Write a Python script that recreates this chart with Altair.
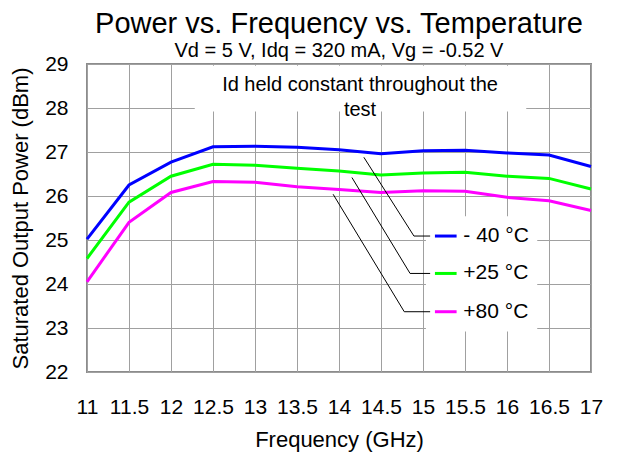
import altair as alt
import pandas as pd

# ---- data ----
freq = [11, 11.5, 12, 12.5, 13, 13.5, 14, 14.5, 15, 15.5, 16, 16.5, 17]
p_m40 = [25.02, 26.25, 26.77, 27.12, 27.13, 27.11, 27.05, 26.96, 27.03, 27.04, 26.98, 26.93, 26.67]
p_25 = [24.58, 25.86, 26.45, 26.72, 26.70, 26.63, 26.57, 26.48, 26.52, 26.54, 26.45, 26.40, 26.16]
p_80 = [24.05, 25.40, 26.08, 26.33, 26.31, 26.21, 26.15, 26.08, 26.12, 26.11, 25.97, 25.89, 25.67]

series_labels = ["- 40 °C", "+25 °C", "+80 °C"]
series_colors = ["#0000FF", "#00FF00", "#FF00FF"]

x_ticks = [11, 11.5, 12, 12.5, 13, 13.5, 14, 14.5, 15, 15.5, 16, 16.5, 17]
y_ticks = [22, 23, 24, 25, 26, 27, 28, 29]

# legend (manual, inside the plot) and leader lines
legend_y = [25.09, 24.24, 23.37]
swatch_x = [15.142, 15.40]
legend_text_x = 15.48
leader_start_x = [14.296, 14.154, 13.93]
leader_start_y = [26.88, 26.42, 26.04]
leader_corner_x = [14.892, 14.846, 14.777]
leader_end_x = 15.085

# white boxes behind annotation and legend
box_x = [12.283, 15.035]
box_x2 = [16.229, 16.36]
box_y = [28.96, 25.54]
box_y2 = [27.92, 22.92]

note_lines = ["Id held constant throughout the", "test"]
note_x = 14.25
note_y = [28.52, 27.95]

FONT = "Liberation Sans"
XT = "Frequency (GHz)"
YT = "Saturated Output Power (dBm)"

xs = alt.Scale(domain=[11, 17], nice=False, zero=False)
ys = alt.Scale(domain=[22, 29], nice=False, zero=False)

rows = []
for lab, vals in zip(series_labels, [p_m40, p_25, p_80]):
    for f, v in zip(freq, vals):
        rows.append({"freq": f, "power": v, "series": lab})
df = pd.DataFrame(rows)

boxes = pd.DataFrame({"x": box_x, "x2": box_x2, "y": box_y, "y2": box_y2})

lead_rows = []
for i, lab in enumerate(series_labels):
    lead_rows.append({"id": lab, "o": 0, "x": leader_start_x[i], "y": leader_start_y[i]})
    lead_rows.append({"id": lab, "o": 1, "x": leader_corner_x[i], "y": legend_y[i]})
    lead_rows.append({"id": lab, "o": 2, "x": leader_end_x, "y": legend_y[i]})
leads = pd.DataFrame(lead_rows)

leg = pd.DataFrame({"series": series_labels, "y": legend_y,
                    "x": [swatch_x[0]] * 3, "x2": [swatch_x[1]] * 3,
                    "tx": [legend_text_x] * 3})

notes = pd.DataFrame({"t": note_lines, "x": [note_x] * 2, "y": note_y})

color = alt.Color("series:N", scale=alt.Scale(domain=series_labels, range=series_colors), legend=None)

xaxis = alt.Axis(values=x_ticks, format="~g", title=XT, labelOverlap=False, labelFlush=False, labelBound=False)
yaxis = alt.Axis(values=y_ticks, format="d", title=YT, labelOverlap=False, labelFlush=False)

box_layer = alt.Chart(boxes).mark_rect(color="white").encode(
    x=alt.X("x:Q", scale=xs, axis=xaxis, title=XT),
    x2="x2:Q",
    y=alt.Y("y:Q", scale=ys, axis=yaxis, title=YT),
    y2="y2:Q",
)

lines = alt.Chart(df).mark_line(strokeWidth=3).encode(
    x=alt.X("freq:Q", scale=xs, axis=xaxis, title=XT),
    y=alt.Y("power:Q", scale=ys, axis=yaxis, title=YT),
    color=color,
)

leader = alt.Chart(leads).mark_line(color="black", strokeWidth=1).encode(
    x=alt.X("x:Q", scale=xs, axis=xaxis, title=XT),
    y=alt.Y("y:Q", scale=ys, axis=yaxis, title=YT),
    detail="id:N",
    order="o:Q",
)

swatch = alt.Chart(leg).mark_rule(strokeWidth=3).encode(
    x=alt.X("x:Q", scale=xs, axis=xaxis, title=XT),
    x2="x2:Q",
    y=alt.Y("y:Q", scale=ys, axis=yaxis, title=YT),
    color=color,
)

leg_text = alt.Chart(leg).mark_text(align="left", baseline="middle", fontSize=21, font=FONT, color="black").encode(
    x=alt.X("tx:Q", scale=xs, axis=xaxis, title=XT),
    y=alt.Y("y:Q", scale=ys, axis=yaxis, title=YT),
    text="series:N",
)

note_text = alt.Chart(notes).mark_text(align="center", baseline="middle", fontSize=20, font=FONT, color="black").encode(
    x=alt.X("x:Q", scale=xs, axis=xaxis, title=XT),
    y=alt.Y("y:Q", scale=ys, axis=yaxis, title=YT),
    text="t:N",
)

chart = alt.layer(box_layer, lines, leader, swatch, leg_text, note_text).properties(
    width=504,
    height=308,
    autosize=alt.AutoSizeParams(type="none"),
    padding={"left": 79, "top": 56, "right": 19, "bottom": 90},
    title=alt.TitleParams(
        text="Power vs. Frequency vs. Temperature",
        subtitle="Vd = 5 V, Idq = 320 mA, Vg = -0.52 V",
        fontSize=29, subtitleFontSize=20, font=FONT, subtitleFont=FONT,
        fontWeight="normal", color="black", subtitleColor="black",
        anchor="middle", frame="group", offset=-8, subtitlePadding=2,
    ),
).configure(font=FONT, background="white").configure_view(
    stroke="#8c8c8c", strokeWidth=2
).configure_axis(
    grid=True, gridColor="#a0a0a0", gridWidth=1, gridOpacity=1,
    domain=False, ticks=False, tickSize=0,
    labelFont=FONT, labelFontSize=21, labelColor="black",
    titleFont=FONT, titleFontSize=22, titleFontWeight="normal", titleColor="black",
).configure_axisX(labelPadding=24, titlePadding=12).configure_axisY(labelPadding=19, titlePadding=12)

chart.save("out.html", embed_options={"renderer": "svg", "actions": False})
